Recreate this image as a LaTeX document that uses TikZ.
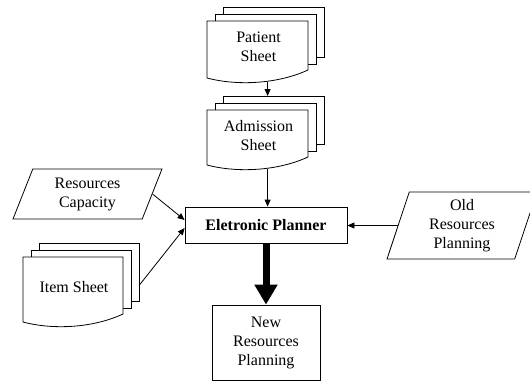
\documentclass[tikz,border=0pt]{standalone}
\usepackage{fontspec}
\setmainfont{Liberation Serif}
\usetikzlibrary{arrows.meta,shapes.geometric,calc}
\tikzset{
  txt/.style={font=\fontsize{16}{19}\selectfont,align=center},
  sheet/.style={draw=black,fill=white,line width=0.8pt,line join=miter},
  lbl/.style={txt,inner sep=0pt},
  para/.style={draw=black,line width=0.8pt,trapezium,trapezium stretches body,
    txt,inner sep=0pt},
  boxed/.style={draw=black,line width=0.8pt,rectangle,inner sep=0pt,txt},
  arr/.style={line width=0.8pt,-{Triangle[length=7pt,width=6pt]}},
  bigarr/.style={line width=7pt,-{Triangle[length=20pt,width=22pt]}},
  pics/docstack/.style n args={3}{code={
    \path[sheet] (16,-14) rectangle ++(#1,#2-7);
    \path[sheet] (8,-7) rectangle ++(#1,#2-7);
    \path[sheet] (0,#2) -- (0,0) -- (#1,0) -- (#1,#2-8)
       .. controls (0.7*#1,#2+6) and (0.3*#1,#2+8) .. (0,#2) -- cycle;
    \node[lbl] (-t) at (#1/2+1,0.46*#2) {#3};
    \coordinate (-bot) at (0.6*#1,#2+3.5);
    \coordinate (-top) at (0.6*#1,-14);
    \coordinate (-east) at (#1+16,0.44*#2);
  }}
}
\begin{document}
\begin{tikzpicture}[x=1pt,y=-1pt]
\useasboundingbox (0,0) rectangle (530,381);
\pic (ps) at (207,21) {docstack={101}{57}{Patient\\Sheet}};
\pic (as) at (207,110) {docstack={101}{55}{Admission\\Sheet}};
\pic (is) at (23,257) {docstack={100}{65}{Item Sheet}};
\node[boxed,minimum width=162pt,minimum height=36pt] (planner) at (266,225) {\textbf{Eletronic Planner}};
\node[boxed,minimum width=108pt,minimum height=75pt] (new) at (266,342.5) {New\\Resources\\Planning};
\node[para,trapezium left angle=59,trapezium right angle=121,minimum width=149pt,minimum height=50pt] (rc) at (87.5,194) {Resources\\Capacity};
\node[para,trapezium left angle=67,trapezium right angle=113,minimum width=150pt,minimum height=67pt] (old) at (462,225.5) {Old\\Resources\\Planning};
\draw[arr] (ps-bot) -- (as-top);
\draw[arr] (as-bot) -- (as-bot |- planner.north);
\draw[arr] (rc.right side) -- ([yshift=5pt]planner.west);
\draw[arr] (is-east) -- ([yshift=-3pt]planner.west);
\draw[arr] (old.left side) -- (old.left side -| planner.east);
\draw[bigarr] (planner.south) -- (new.north);
\end{tikzpicture}
\end{document}
